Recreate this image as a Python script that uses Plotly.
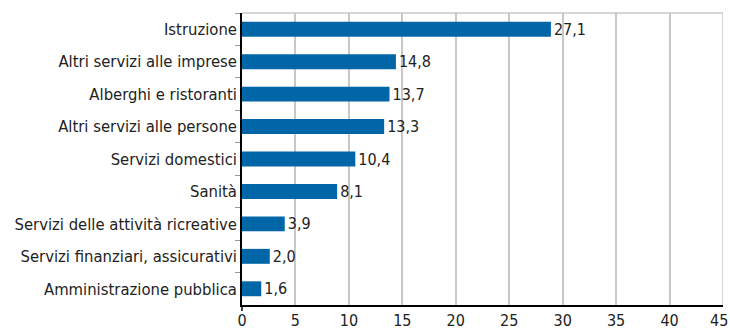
import plotly.graph_objects as go

categories = ["Istruzione", "Altri servizi alle imprese", "Alberghi e ristoranti",
              "Altri servizi alle persone", "Servizi domestici", "Sanità",
              "Servizi delle attività ricreative", "Servizi finanziari, assicurativi",
              "Amministrazione pubblica"]
# bar lengths as measured on the picture
values = [28.9, 14.4, 13.8, 13.3, 10.6, 8.9, 4.0, 2.6, 1.8]
# value labels as printed on the picture
labels = ["27,1", "14,8", "13,7", "13,3", "10,4", "8,1", "3,9", "2,0", "1,6"]
x_ticks = [0, 5, 10, 15, 20, 25, 30, 35, 40, 45]

FONT = "DejaVu Sans Condensed, Liberation Sans Narrow, Roboto, sans-serif"
PLOT_H = 329 - 13 - 24

fig = go.Figure(go.Bar(
    y=categories, x=values, orientation="h",
    marker=dict(color="#0066a8", line=dict(width=0)),
    text=labels, textposition="outside", cliponaxis=False, constraintext="none",
    textfont=dict(family=FONT, size=16, color="#222222"),
))

# last tick label drawn as an annotation so it stays inside the page
tick_text = [str(t) for t in x_ticks[:-1]] + [""]

fig.update_layout(
    width=730, height=329,
    margin=dict(l=242, r=7, t=13, b=24),
    paper_bgcolor="white", plot_bgcolor="white",
    bargap=0.54, showlegend=False,
    font=dict(family=FONT, size=16.5, color="#222222"),
    xaxis=dict(range=[0, 45], tickvals=x_ticks, ticktext=tick_text,
               showgrid=True, gridcolor="#c8c8c8", gridwidth=1.5,
               showline=True, linecolor="black", linewidth=1.5,
               ticks="", ticklabeloverflow="allow", automargin=False,
               zeroline=False, tickfont=dict(family=FONT, size=16)),
    yaxis=dict(autorange="reversed", showline=True, linecolor="black", linewidth=1.5,
               ticks="outside", ticklen=5, tickcolor="#999999", tickson="boundaries",
               automargin=False, showgrid=False, tickfont=dict(family=FONT, size=16.5)),
    annotations=[dict(x=x_ticks[-1], xref="x", y=0, yref="paper", yanchor="top",
                      xanchor="right", xshift=6, yshift=-5, showarrow=False,
                      borderpad=0,
                      text=str(x_ticks[-1]), font=dict(family=FONT, size=16, color="#222222"))],
    shapes=[
        dict(type="line", xref="paper", yref="paper", x0=0, x1=1, y0=1, y1=1,
             line=dict(color="#c8c8c8", width=1.5)),
        dict(type="line", xref="x", yref="paper", x0=45, x1=45, y0=0, y1=1,
             line=dict(color="#c8c8c8", width=1.5)),
        dict(type="line", xref="paper", yref="paper", x0=0, x1=0, y0=-6 / PLOT_H, y1=0,
             line=dict(color="black", width=1.5)),
    ],
)

fig.write_html("out.html")
